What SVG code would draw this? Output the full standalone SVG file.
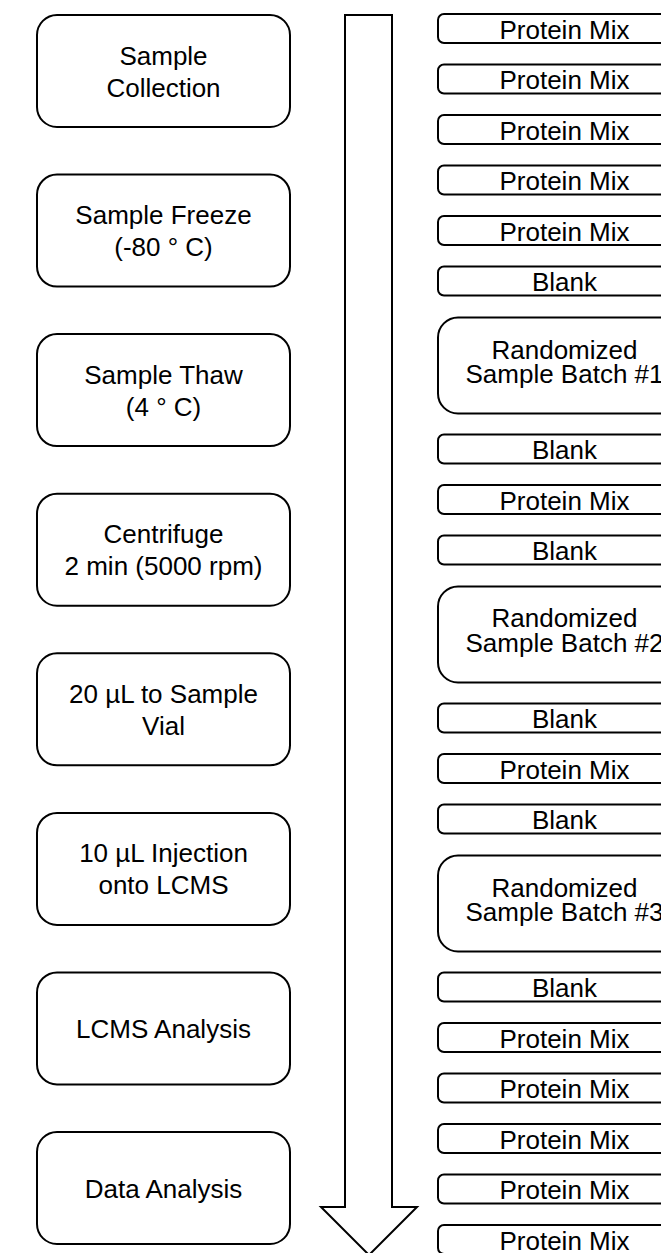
<svg xmlns="http://www.w3.org/2000/svg" width="661" height="1253" viewBox="0 0 661 1253">
  <style>
    .box { fill: #ffffff; stroke: #000000; stroke-width: 2; }
    .lbl { font-family: "Liberation Sans", Arial, sans-serif; font-size: 26px; fill: #000000; text-anchor: middle; }
  </style>
  <rect width="661" height="1253" fill="#ffffff"/>

  <!-- timeline arrow -->
  <g id="connectors">
    <path class="box" d="M345,15 L392,15 L392,1207 L417,1207 L369,1255 L321,1207 L345,1207 Z"/>
  </g>

  <!-- workflow steps -->
  <g id="step-collection">
    <rect class="box" x="37" y="15" width="253" height="112" rx="20"/>
    <text class="lbl" x="163.5" y="64.5">Sample</text>
    <text class="lbl" x="163.5" y="96.5">Collection</text>
  </g>
  <g id="step-freeze">
    <rect class="box" x="37" y="174.6" width="253" height="112" rx="20"/>
    <text class="lbl" x="163.5" y="224">Sample Freeze</text>
    <text class="lbl" x="163.5" y="256">(-80 ° C)</text>
  </g>
  <g id="step-thaw">
    <rect class="box" x="37" y="334.1" width="253" height="112" rx="20"/>
    <text class="lbl" x="163.5" y="383.6">Sample Thaw</text>
    <text class="lbl" x="163.5" y="415.6">(4 ° C)</text>
  </g>
  <g id="step-centrifuge">
    <rect class="box" x="37" y="493.7" width="253" height="112" rx="20"/>
    <text class="lbl" x="163.5" y="543.2">Centrifuge</text>
    <text class="lbl" x="163.5" y="575.2">2 min (5000 rpm)</text>
  </g>
  <g id="step-vial">
    <rect class="box" x="37" y="653.3" width="253" height="112" rx="20"/>
    <text class="lbl" x="163.5" y="702.8">20 µL to Sample</text>
    <text class="lbl" x="163.5" y="734.8">Vial</text>
  </g>
  <g id="step-injection">
    <rect class="box" x="37" y="812.9" width="253" height="112" rx="20"/>
    <text class="lbl" x="163.5" y="862.4">10 µL Injection</text>
    <text class="lbl" x="163.5" y="894.4">onto LCMS</text>
  </g>
  <g id="step-lcms">
    <rect class="box" x="37" y="972.4" width="253" height="112" rx="20"/>
    <text class="lbl" x="163.5" y="1038.4">LCMS Analysis</text>
  </g>
  <g id="step-data">
    <rect class="box" x="37" y="1132" width="253" height="112" rx="20"/>
    <text class="lbl" x="163.5" y="1198">Data Analysis</text>
  </g>

  <!-- injection sequence -->
  <g id="seq-01"><rect class="box" x="438" y="14" width="253" height="29" rx="6"/><text class="lbl" x="564.5" y="38.5">Protein Mix</text></g>
  <g id="seq-02"><rect class="box" x="438" y="64.5" width="253" height="29" rx="6"/><text class="lbl" x="564.5" y="89">Protein Mix</text></g>
  <g id="seq-03"><rect class="box" x="438" y="115" width="253" height="29" rx="6"/><text class="lbl" x="564.5" y="139.5">Protein Mix</text></g>
  <g id="seq-04"><rect class="box" x="438" y="165.5" width="253" height="29" rx="6"/><text class="lbl" x="564.5" y="190">Protein Mix</text></g>
  <g id="seq-05"><rect class="box" x="438" y="216" width="253" height="29" rx="6"/><text class="lbl" x="564.5" y="240.5">Protein Mix</text></g>
  <g id="seq-06"><rect class="box" x="438" y="266.5" width="253" height="29" rx="6"/><text class="lbl" x="564.5" y="291">Blank</text></g>
  <g id="seq-batch1">
    <rect class="box" x="438" y="317.5" width="253" height="96" rx="20"/>
    <text class="lbl" x="564.5" y="359">Randomized</text>
    <text class="lbl" x="564.5" y="383">Sample Batch #1</text>
  </g>
  <g id="seq-08"><rect class="box" x="438" y="434.5" width="253" height="29" rx="6"/><text class="lbl" x="564.5" y="459">Blank</text></g>
  <g id="seq-09"><rect class="box" x="438" y="485" width="253" height="29" rx="6"/><text class="lbl" x="564.5" y="509.5">Protein Mix</text></g>
  <g id="seq-10"><rect class="box" x="438" y="535.5" width="253" height="29" rx="6"/><text class="lbl" x="564.5" y="560">Blank</text></g>
  <g id="seq-batch2">
    <rect class="box" x="438" y="586.5" width="253" height="96" rx="20"/>
    <text class="lbl" x="564.5" y="627">Randomized</text>
    <text class="lbl" x="564.5" y="651.5">Sample Batch #2</text>
  </g>
  <g id="seq-12"><rect class="box" x="438" y="703.5" width="253" height="29" rx="6"/><text class="lbl" x="564.5" y="728">Blank</text></g>
  <g id="seq-13"><rect class="box" x="438" y="754" width="253" height="29" rx="6"/><text class="lbl" x="564.5" y="778.5">Protein Mix</text></g>
  <g id="seq-14"><rect class="box" x="438" y="804.5" width="253" height="29" rx="6"/><text class="lbl" x="564.5" y="829">Blank</text></g>
  <g id="seq-batch3">
    <rect class="box" x="438" y="855.5" width="253" height="96" rx="20"/>
    <text class="lbl" x="564.5" y="897">Randomized</text>
    <text class="lbl" x="564.5" y="920.5">Sample Batch #3</text>
  </g>
  <g id="seq-16"><rect class="box" x="438" y="972.5" width="253" height="29" rx="6"/><text class="lbl" x="564.5" y="997">Blank</text></g>
  <g id="seq-17"><rect class="box" x="438" y="1023" width="253" height="29" rx="6"/><text class="lbl" x="564.5" y="1047.5">Protein Mix</text></g>
  <g id="seq-18"><rect class="box" x="438" y="1073.5" width="253" height="29" rx="6"/><text class="lbl" x="564.5" y="1098">Protein Mix</text></g>
  <g id="seq-19"><rect class="box" x="438" y="1124" width="253" height="29" rx="6"/><text class="lbl" x="564.5" y="1148.5">Protein Mix</text></g>
  <g id="seq-20"><rect class="box" x="438" y="1174.5" width="253" height="29" rx="6"/><text class="lbl" x="564.5" y="1199">Protein Mix</text></g>
  <g id="seq-21"><rect class="box" x="438" y="1225" width="253" height="29" rx="6"/><text class="lbl" x="564.5" y="1249.5">Protein Mix</text></g>
</svg>
